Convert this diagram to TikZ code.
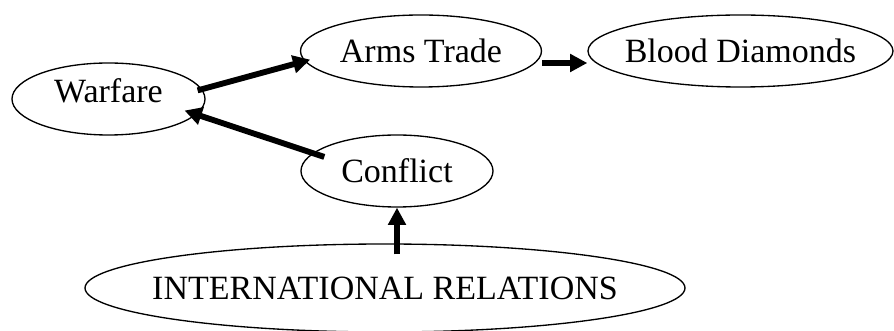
\documentclass[tikz,border=0pt]{standalone}
\usepackage{fontspec}
\setmainfont{Liberation Serif}
\usetikzlibrary{shapes.geometric,arrows.meta}
\newcommand\ztext[1]{\makebox[0pt]{#1}}
\tikzset{
  oval/.style={ellipse, draw=black, line width=1pt, inner sep=0pt,
    font=\fontsize{25.5}{29}\selectfont, text height=16.8pt, text depth=0pt},
  arr/.style={line width=4.4pt, -{Triangle[length=13pt,width=13pt]}}
}
\begin{document}
\begin{tikzpicture}[x=0.75pt,y=-0.75pt]
\useasboundingbox (0,0) rectangle (894,331);
\node[oval, minimum width=144.75pt, minimum height=54pt, text depth=12pt] (warfare) at (108.5,99) {\ztext{Warfare}};
\node[oval, minimum width=180.75pt, minimum height=54pt] (arms) at (421,51) {\ztext{Arms Trade}};
\node[oval, minimum width=228.75pt, minimum height=54pt] (blood) at (740.5,51) {\ztext{Blood Diamonds}};
\node[oval, minimum width=144pt, minimum height=54pt] (conflict) at (397,171) {\ztext{Conflict}};
\node[oval, minimum width=450pt, minimum height=66pt] (ir) at (385,288) {\ztext{INTERNATIONAL RELATIONS}};
\draw[arr, shorten <=-3.5pt, shorten >=-4.4pt] (warfare.6.8) -- (arms.185.2);
\draw[arr] ([yshift=-9pt]arms.east) -- ([yshift=-9pt]blood.west);
\draw[arr, shorten <=-9.2pt, shorten >=-9.5pt] (conflict.168.7) -- (warfare.-10.5);
\draw[arr, shorten <=-8.25pt] (ir.north -| conflict.south) -- (conflict.south);
\end{tikzpicture}
\end{document}
